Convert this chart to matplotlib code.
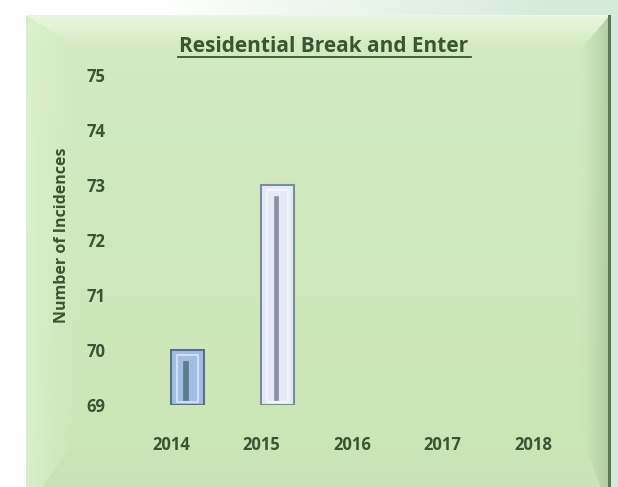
import numpy as np
import matplotlib.pyplot as plt

# chart data
years = ['2014', '2015', '2016', '2017', '2018']
incidences = [70, 73, None, None, None]
y_ticks = [69, 70, 71, 72, 73, 74, 75]

text_col = '#3a5434'
face_cols = ['#a2bde4', '#e6eaf7']
edge_cols = ['#56708f', '#7d8aa3']
slit_cols = ['#5b7b8e', '#8a92a4']

plt.rcParams['font.family'] = ['Open Sans', 'DejaVu Sans']

W, H = 618, 487
fig = plt.figure(figsize=(W / 100, H / 100), dpi=100)

# background: bevelled green panel
bg = np.ones((H, W, 3))
xx, yy = np.meshgrid(np.arange(W), np.arange(H))
outer = np.array([0.84, 0.92, 0.86])
t = np.clip((xx - 150) / 400, 0, 1)[..., None]
bg[:] = (1 - t) * np.array([1.0, 1.0, 1.0]) + t * outer
L, R, T, B = 26, 609, 15, 510
inside = (xx >= L) & (xx <= R) & (yy >= T)
base = np.array([0.81, 0.90, 0.73])
shade = np.clip((yy - T) / (H - T), 0, 1)[..., None]
panel = base + (1 - shade) * np.array([0.02, 0.02, 0.03]) - shade * np.array([0.01, 0.0, 0.02])
dt = (yy - T) / 35.0
dl = (xx - L) / 55.0
dr = (R - xx) / 30.0
db = (B - yy) / 80.0
d = np.stack([dt, dl, dr, db])
k = np.argmin(d, axis=0)
m = np.min(d, axis=0)
bev_cols = [np.array([0.93, 0.97, 0.88]), np.array([0.86, 0.94, 0.80]),
            np.array([0.70, 0.80, 0.63]), np.array([0.79, 0.88, 0.72])]
for i in range(4):
    sel = inside & (k == i) & (m < 1)
    w = (1 - m[sel]) ** 1.3
    panel[sel] = w[:, None] * bev_cols[i] + (1 - w[:, None]) * panel[sel]
bg[inside] = panel[inside]
bg[(xx >= R - 1) & (xx <= R + 1) & (yy >= T)] = [0.36, 0.47, 0.33]
bg = np.clip(bg, 0, 1)

bax = fig.add_axes([0, 0, 1, 1], zorder=0)
bax.imshow(bg, aspect='auto', interpolation='bilinear')
bax.axis('off')

ax = fig.add_axes([110 / W, 1 - 405 / H, 480 / W, 330 / H], zorder=1)
ax.patch.set_alpha(0)

x = np.arange(len(years))
width = 0.36
for i, v in enumerate(incidences):
    if v is None:
        continue
    ax.bar(x[i], v - 69, bottom=69, width=width, align='edge',
           color=face_cols[i], edgecolor=edge_cols[i], linewidth=1.5)
    # lighter bevel frame and inner slit
    ax.bar(x[i] + width * 0.18, v - 69 - 0.14, bottom=69.05, width=width * 0.64,
           align='edge', color='none', edgecolor='white', linewidth=1.2, alpha=0.6)
    ax.bar(x[i] + width * 0.38, v - 69 - 0.3, bottom=69.1, width=width * 0.14,
           align='edge', color=slit_cols[i], edgecolor=slit_cols[i], linewidth=0.5)

ax.set_xlim(-0.674, 4.63)
ax.set_ylim(69, 75)
ax.set_xticks(x)
ax.set_xticklabels(years)
ax.set_yticks(y_ticks)
for s in ax.spines.values():
    s.set_visible(False)
ax.tick_params(length=0, colors=text_col)
ax.tick_params(axis='x', pad=22)
ax.tick_params(axis='y', pad=3)
for lab in ax.get_xticklabels():
    lab.set_fontsize(12)
    lab.set_fontweight('bold')
for lab in ax.get_yticklabels():
    lab.set_fontsize(12)
    lab.set_fontweight('bold')

fig.text(62 / W, 1 - 235 / H, 'Number of Incidences', rotation=90, ha='center', va='center',
         fontsize=11.5, fontweight='bold', color=text_col)
fig.text(324 / W, 1 - 46 / H, 'Residential Break and Enter', ha='center', va='center',
         fontsize=15, fontweight='bold', color=text_col)
# underline
fig.add_artist(plt.Line2D([178 / W, 471 / W], [1 - 57 / H, 1 - 57 / H], color=text_col, linewidth=1.3))

fig.savefig('out.png', dpi=100)
